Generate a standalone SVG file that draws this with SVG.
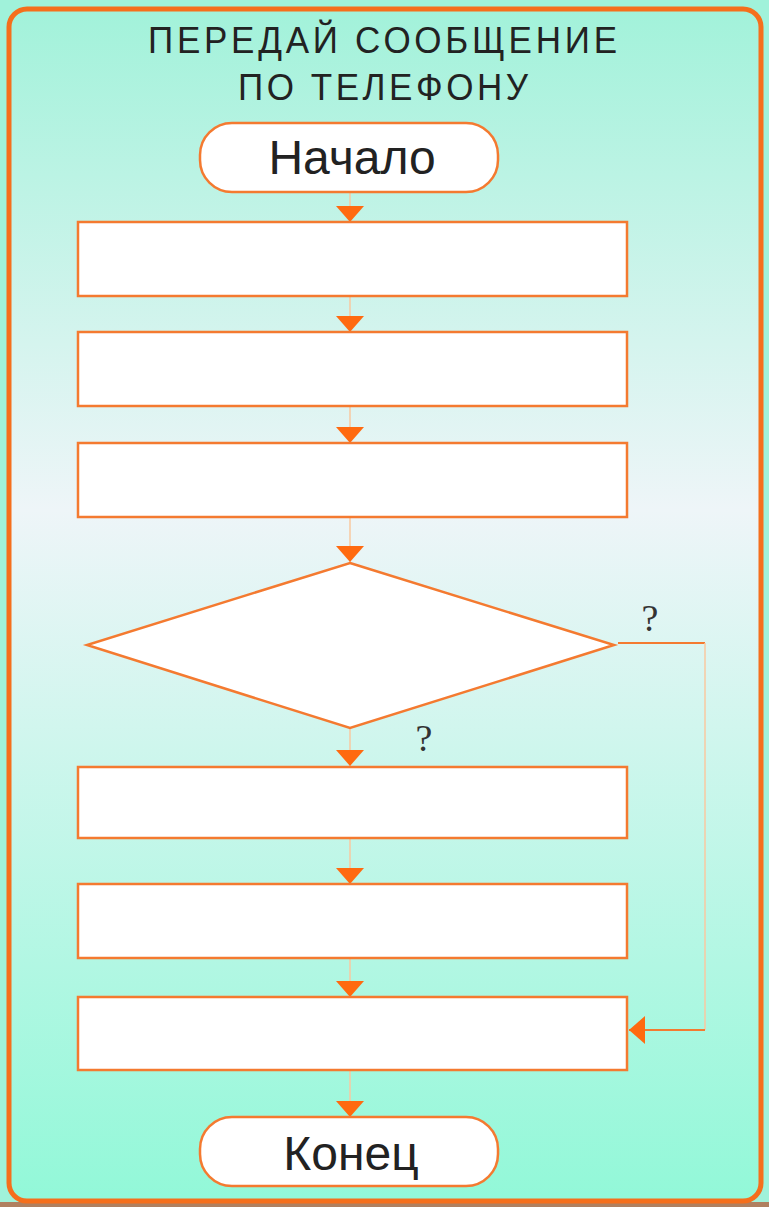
<svg xmlns="http://www.w3.org/2000/svg" width="769" height="1207" viewBox="0 0 769 1207">
<defs>
<linearGradient id="bg" x1="0" y1="0" x2="0" y2="1">
<stop offset="0" stop-color="#a2f2da"/>
<stop offset="0.42" stop-color="#eef5f8"/>
<stop offset="1" stop-color="#92f8d8"/>
</linearGradient>
<marker id="ah" viewBox="0 0 28 16" refX="14" refY="16" markerWidth="28" markerHeight="16" markerUnits="userSpaceOnUse" orient="0">
<path d="M0,0 L28,0 L14,16 Z" fill="#ff6a10"/>
</marker>
<marker id="ahl" viewBox="0 0 16 28" refX="0" refY="14" markerWidth="16" markerHeight="28" markerUnits="userSpaceOnUse" orient="0">
<path d="M0,14 L16,0 L16,28 Z" fill="#ff6a10"/>
</marker>
</defs>
<style>
.box{fill:#ffffff;stroke:#f47a30;stroke-width:2.5}
.v{stroke:#f8c8a0;stroke-width:1.5;fill:none}
.h{stroke:#f47a30;stroke-width:2;fill:none}
.title{font-family:"Liberation Sans",Arial,sans-serif;font-size:35px;fill:#222}
.term{font-family:"Liberation Sans",Arial,sans-serif;font-size:48px;fill:#222;text-anchor:middle}
.q{font-family:"Liberation Serif","Times New Roman",serif;font-size:38px;fill:#333;text-anchor:middle}
</style>
<rect x="0" y="0" width="769" height="1207" fill="#a0f2da"/>
<rect x="0" y="1202" width="769" height="5" fill="#b08060"/>
<rect id="frame" x="9" y="9" width="752" height="1192" rx="18" fill="url(#bg)" stroke="#f56f1c" stroke-width="5"/>
<g id="title">
<text class="title" x="148" y="53" textLength="469" lengthAdjust="spacing" transform="translate(148 53) scale(1 1.05) translate(-148 -53)">ПЕРЕДАЙ СООБЩЕНИЕ</text>
<text class="title" x="238" y="100" textLength="290" lengthAdjust="spacing" transform="translate(238 100) scale(1 1.05) translate(-238 -100)">ПО ТЕЛЕФОНУ</text>
</g>
<g id="connectors">
<line class="v" x1="350" y1="192" x2="350" y2="222" marker-end="url(#ah)"/>
<line class="v" x1="350" y1="296" x2="350" y2="332" marker-end="url(#ah)"/>
<line class="v" x1="350" y1="406" x2="350" y2="443" marker-end="url(#ah)"/>
<line class="v" x1="350" y1="517" x2="350" y2="562" marker-end="url(#ah)"/>
<line class="v" x1="350" y1="728" x2="350" y2="766" marker-end="url(#ah)"/>
<line class="v" x1="350" y1="838" x2="350" y2="884" marker-end="url(#ah)"/>
<line class="v" x1="350" y1="958" x2="350" y2="997" marker-end="url(#ah)"/>
<line class="v" x1="350" y1="1070" x2="350" y2="1117" marker-end="url(#ah)"/>
<line class="h" x1="618" y1="643" x2="705" y2="643"/>
<line class="v" x1="705" y1="643" x2="705" y2="1030"/>
<line class="h" x1="705" y1="1030" x2="629" y2="1030" marker-end="url(#ahl)"/>
</g>
<g id="start">
<rect class="box" x="200" y="123" width="298" height="69" rx="32"/>
<text class="term" x="352" y="174">Начало</text>
</g>
<g id="step1"><rect class="box" x="78" y="222" width="549" height="74"/></g>
<g id="step2"><rect class="box" x="78" y="332" width="549" height="74"/></g>
<g id="step3"><rect class="box" x="78" y="443" width="549" height="74"/></g>
<g id="decision">
<polygon class="box" points="350,563 614,645 350,728 87,645"/>
</g>
<g id="labels">
<text class="q" x="650" y="631">?</text>
<text class="q" x="424" y="751">?</text>
</g>
<g id="step4"><rect class="box" x="78" y="767" width="549" height="71"/></g>
<g id="step5"><rect class="box" x="78" y="884" width="549" height="74"/></g>
<g id="step6"><rect class="box" x="78" y="997" width="549" height="73"/></g>
<g id="end">
<rect class="box" x="200" y="1117" width="298" height="69" rx="32"/>
<text class="term" x="351" y="1170">Конец</text>
</g>
</svg>
